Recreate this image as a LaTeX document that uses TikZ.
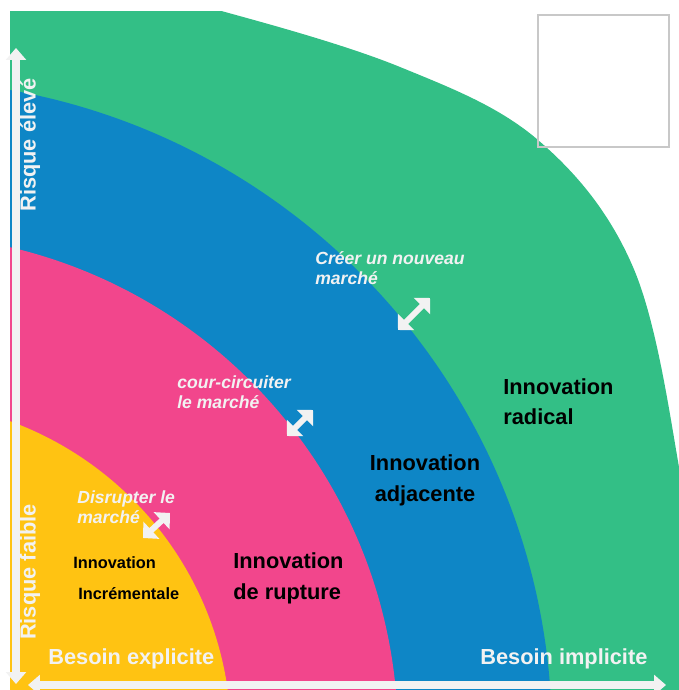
\documentclass[tikz,border=0pt]{standalone}
\usepackage{fontspec}
\setmainfont{Liberation Sans}
\usetikzlibrary{arrows.meta}

\definecolor{radgreen}{RGB}{51,191,134}
\definecolor{adjblue}{RGB}{14,134,198}
\definecolor{ruppink}{RGB}{242,70,140}
\definecolor{incyellow}{RGB}{255,195,18}
\definecolor{offwhite}{RGB}{242,242,242}
\definecolor{boxgray}{RGB}{200,200,200}

\tikzset{
  axisarrow/.style={draw=offwhite, line width=4.5pt,
    {Triangle[length=6.8pt, width=11.3pt]}-{Triangle[length=6.8pt, width=11.3pt]}},
  movearrow/.style={draw=offwhite, line width=3.4pt,
    {Triangle[length=6.5pt, width=13pt]}-{Triangle[length=6.5pt, width=13pt]}},
  axislabel/.style={text=offwhite, inner sep=0pt,
    font=\fontsize{12.4}{15}\selectfont\bfseries},
  movelabel/.style={text=offwhite, inner sep=0pt, align=left,
    font=\fontsize{10}{11.3}\selectfont\bfseries\itshape},
  kindlabel/.style={text=black, inner sep=0pt,
    font=\fontsize{12.4}{17.3}\selectfont\bfseries},
  smalllabel/.style={text=black, inner sep=0pt,
    font=\fontsize{9.3}{11}\selectfont\bfseries}
}

\begin{document}
\begin{tikzpicture}[x=0.02cm, y=0.02cm]
    \useasboundingbox (0,0) rectangle (679,690);
    % Bands
    \begin{scope}
        \clip (10,0) rectangle (679,678);
        \fill[radgreen] (0,-10) -- (0,700)
            -- plot[smooth, tension=0.6] coordinates {(120,700) (225,678) (400,623)
            (538,550) (633,423) (679,223) (690,100)}
            -- (690,-10) -- cycle;
        \fill[adjblue]   (-105,-47) circle (657);
        \fill[ruppink]   (-105,-47) circle (503);
        \fill[incyellow] (-105,-47) circle (336);
    \end{scope}
    % Empty box
    \draw[boxgray, line width=0.6pt] (538,543) rectangle (669,675);
    % Axes
    \coordinate (ylow) at (16,6);
    \coordinate (yhigh) at (16,642);
    \coordinate (xlow) at (28,5);
    \coordinate (xhigh) at (666,5);
    \draw[axisarrow] (ylow) -- (yhigh);
    \draw[axisarrow] (xlow) -- (xhigh);
    % Axis labels
    \node[axislabel, rotate=90] (high) at (30,545) {Risque élevé};
    \node[axislabel, rotate=90] (low) at (30,118) {Risque faible};
    \node[axislabel, anchor=west] (expl) at (48,31) {Besoin explicite};
    \node[axislabel, anchor=west] (impl) at (480,31) {Besoin implicite};
    % Moves between bands
    \coordinate (m1a) at (143,152);
    \coordinate (m1b) at (170,177);
    \coordinate (m2a) at (287,254);
    \coordinate (m2b) at (313,280);
    \coordinate (m3a) at (398,360);
    \coordinate (m3b) at (430,392);
    \draw[movearrow] (m1a) -- (m1b);
    \draw[movearrow] (m2a) -- (m2b);
    \draw[movearrow] (m3a) -- (m3b);
    \node[movelabel, anchor=west] (disrupt) at (77,183) {Disrupter le\\marché};
    \node[movelabel, anchor=west] (shortcut) at (177,298) {cour-circuiter\\le marché};
    \node[movelabel, anchor=west] (create) at (315,422) {Créer un nouveau\\marché};
    % Kinds of innovation
    \node[kindlabel, align=left, anchor=west] (radical) at (503,288) {Innovation\\radical};
    \node[kindlabel, align=center] (adjacent) at (425,209.5) {Innovation\\adjacente};
    \node[kindlabel, align=left, anchor=west] (rupture) at (233,111.5) {Innovation\\de rupture};
    \node[smalllabel, anchor=west] (incr1) at (73,127) {Innovation};
    \node[smalllabel, anchor=west] (incr2) at (78,96) {Incrémentale};
\end{tikzpicture}
\end{document}
